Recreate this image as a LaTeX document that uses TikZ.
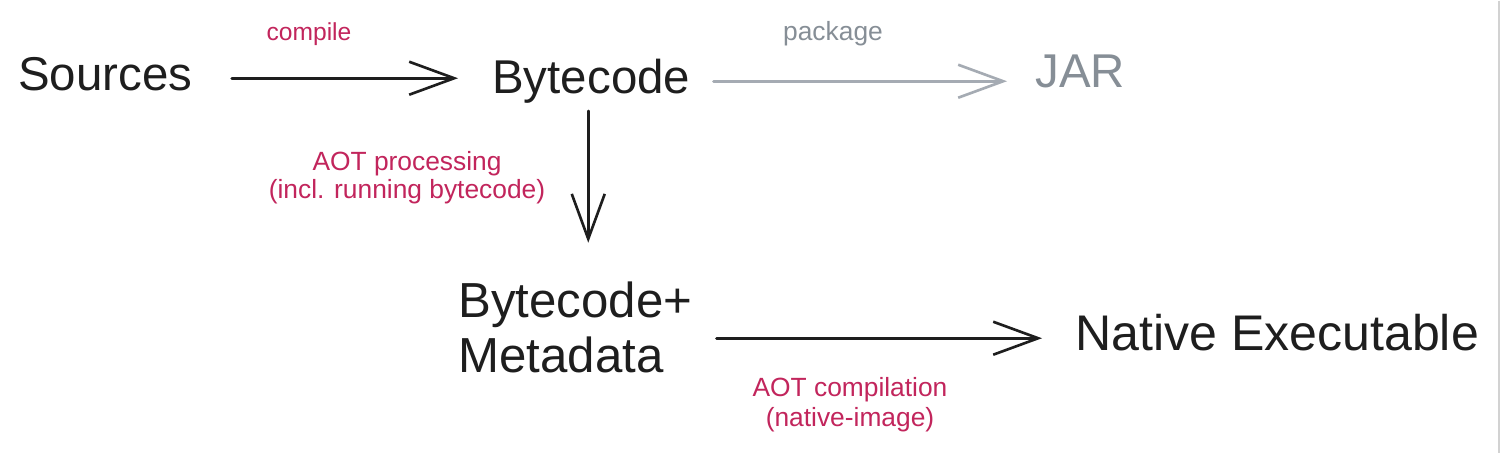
\documentclass[tikz,border=0pt]{standalone}
\usepackage{fontspec}
\setmainfont{Liberation Sans}
\usetikzlibrary{arrows.meta}
\definecolor{ink}{HTML}{1E1E1E}
\definecolor{pinklbl}{HTML}{C2255C}
\definecolor{graytxt}{HTML}{868E96}
\definecolor{grayarr}{HTML}{A5ABB3}
\begin{document}
\begin{tikzpicture}[x=0.02cm,y=-0.02cm,
  term/.style={inner sep=0pt, text=ink, font=\fontsize{27pt}{31.2pt}\selectfont, text height=20pt, text depth=6pt},
  multiterm/.style={inner sep=0pt, text=ink, font=\fontsize{27pt}{31.2pt}\selectfont, align=left},
  lbl/.style={inner sep=0pt, text=pinklbl, font=\fontsize{15pt}{17pt}\selectfont, align=center},
  arr/.style={draw=ink, line width=1.5pt, line cap=round,
    -{Straight Barb[length=0.9cm, width=0.66cm, line width=1.5pt]}},
  garr/.style={arr, draw=grayarr}
]
\fill[white] (0,0) rectangle (1500,452);
\draw[gray!35, line width=0.6pt] (1499,0) -- (1499,452);

% terms
\node[term, anchor=base west] (src) at (18,90) {Sources};
\node[term, anchor=base west] (byte) at (492,93) {Bytecode};
\node[term, anchor=base west, text=graytxt] (jar) at (1035,87) {JAR};
\node[multiterm, anchor=base west, font=\fontsize{28pt}{31.2pt}\selectfont] (bm) at (458,372) {Bytecode+\\Metadata};
\node[term, anchor=base west, font=\fontsize{28.5pt}{31.2pt}\selectfont] (nat) at (1075,350) {Native Executable};

% labels
\node[lbl, anchor=base, font=\fontsize{14pt}{17pt}\selectfont] (lcompile) at (309,40) {compile};
\node[lbl, anchor=base, text=graytxt] (lpackage) at (833,40) {package};
\node[lbl, anchor=base, font=\fontsize{15pt}{15.9pt}\selectfont] (lproc) at (407,198) {AOT processing\\(incl. running bytecode)};
\node[lbl, anchor=base, font=\fontsize{15pt}{17pt}\selectfont] (lcomp) at (850,426) {AOT compilation\\(native-image)};

% connectors
\draw[arr, shorten <=0.78cm, shorten >=0.68cm] (src.east) -- (src.east -| byte.west);
\draw[garr, shorten <=0.46cm, shorten >=0.56cm] (byte.east) -- (byte.east -| jar.west);
\draw[arr, shorten <=0.13cm, shorten >=0.78cm] ([xshift=-0.06cm]byte.south) -- ([xshift=-0.06cm]byte.south |- bm.north);
\draw[arr, shorten <=0.48cm, shorten >=0.66cm] (bm.east |- nat.west) -- (nat.west);
\end{tikzpicture}
\end{document}
